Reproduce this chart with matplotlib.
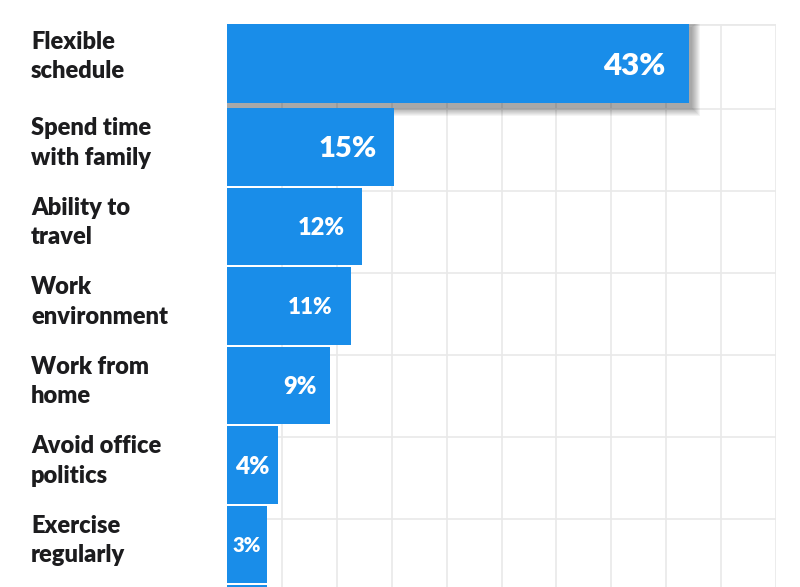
import numpy as np
import matplotlib
matplotlib.use("Agg")
import matplotlib.pyplot as plt
from matplotlib.patches import Rectangle
from matplotlib import transforms

# data
categories = ["Flexible\nschedule", "Spend time\nwith family", "Ability to\ntravel",
              "Work\nenvironment", "Work from\nhome", "Avoid office\npolitics",
              "Exercise\nregularly", ""]
values = [43, 15, 12, 11, 9, 4, 3, 3]
value_labels = ["43%", "15%", "12%", "11%", "9%", "4%", "3%", ""]

# style
blue = "#198de9"
grid_col = "#e9e9e9"
text_col = "#1c1c1e"
value_sizes = [22.5, 21, 17, 16, 17, 17.5, 14.5, 14.5]
value_pads = [24, 17, 17, 19, 14, 8, 6, 6]   # px from bar end

plt.rcParams['font.family'] = ['Lato', 'DejaVu Sans']

fig = plt.figure(figsize=(8, 5.87), dpi=100)
W, H = 800, 587
# axes spans 227..776 px wide, 24 px from top down to bottom edge
ax = fig.add_axes([227 / W, 0, 549 / W, (H - 24) / H])

xmin, xmax = -0.79, 51.25      # bars start a bit left of zero
ytop, ybot = -0.547, 6.535     # rows, first on top
ax.set_xlim(xmin, xmax)
ax.set_ylim(ybot, ytop)
pxx = 549 / (xmax - xmin)      # px per percent
pxy = 563 / (ybot - ytop)      # px per row

for s in ax.spines.values():
    s.set_visible(False)
ax.set_xticks([])
ax.set_yticks([])

# grid
for gx in np.linspace(xmin, xmax, 11)[1:]:
    ax.axvline(gx, color=grid_col, lw=1.2, zorder=0)
ax.axhline(ytop, color=grid_col, lw=2, zorder=0)
for k in range(6):
    ax.axhline(0.522 + 1.0314 * k, color=grid_col, lw=1.2, zorder=0)

bar_h = 0.97
lab_tr = transforms.blended_transform_factory(fig.transFigure, ax.transData)

for i, (cat, v, vl) in enumerate(zip(categories, values, value_labels)):
    yc = i
    h = bar_h
    left = xmin
    lab_off = 4
    if i == 0:
        # highlighted bar, slightly lifted with soft shadow
        yc = i - 0.05
        h = 0.994
        left = xmin - 1 / pxx
        lab_off = 7
        w = v - left
        for s in range(1, 10):
            ox, oy = 2 / pxx, 4 / pxy
            ax.add_patch(Rectangle((left + ox - s / pxx, yc - h / 2 + oy - s / pxy),
                                   w + 2 * s / pxx, h + 2 * s / pxy,
                                   color="black", alpha=0.045, lw=0, zorder=1))
    ax.add_patch(Rectangle((left, yc - h / 2), v - left, h, color=blue, lw=0, zorder=2))
    if vl:
        ax.text(v - value_pads[i] / pxx, yc, vl, color="white", fontsize=value_sizes[i],
                fontweight="heavy", ha="right", va="center_baseline", zorder=3)
    ax.text(31 / W, yc - lab_off / pxy, cat, transform=lab_tr, color=text_col, fontsize=17,
            fontweight="heavy", ha="left", va="center", linespacing=1.4, clip_on=False)

fig.savefig("out.png", dpi=100)
